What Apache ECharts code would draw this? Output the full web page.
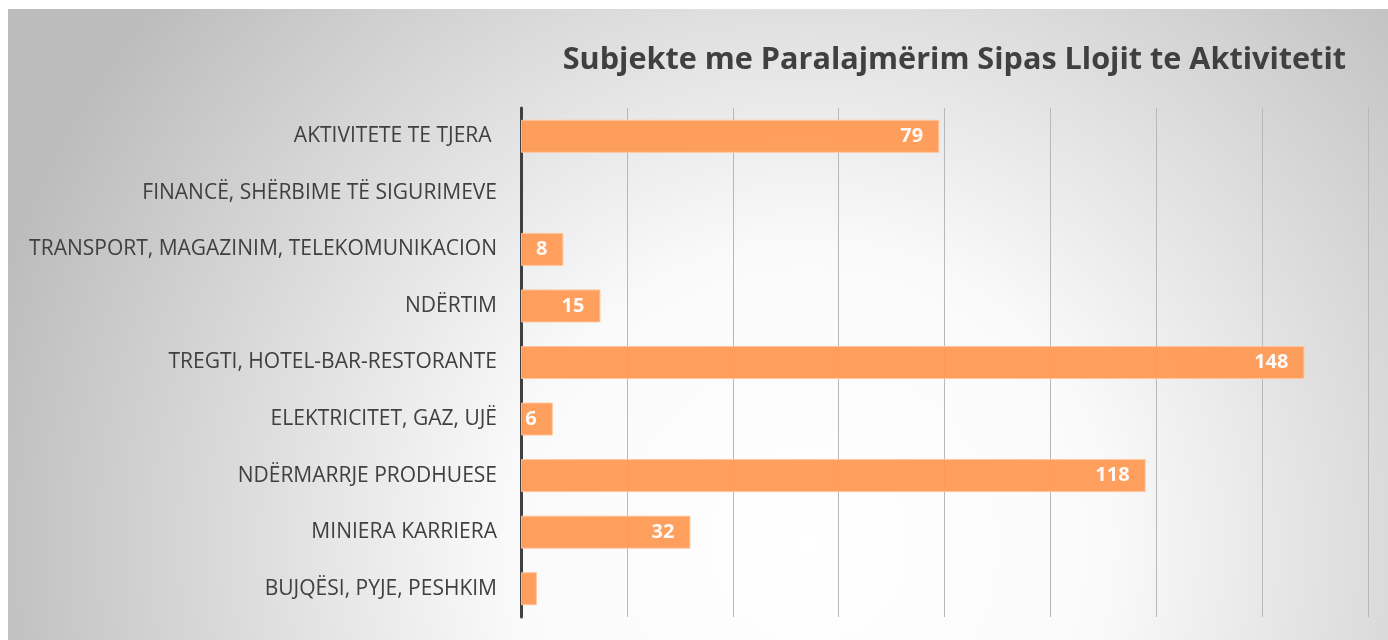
<!DOCTYPE html>
<html>
<head>
<meta charset="utf-8">
<script src="https://cdn.jsdelivr.net/npm/echarts@6/dist/echarts.min.js"></script>
<style>
  html, body { margin: 0; padding: 0; background: #fff; }
  #chart { width: 1388px; height: 640px; }
</style>
</head>
<body>
<div id="chart"></div>
<script>
// kategorite, nga lart poshte
var categories = [
    'AKTIVITETE TE TJERA ',
    'FINANCË, SHËRBIME TË SIGURIMEVE',
    'TRANSPORT, MAGAZINIM, TELEKOMUNIKACION',
    'NDËRTIM',
    'TREGTI, HOTEL-BAR-RESTORANTE',
    'ELEKTRICITET, GAZ, UJË',
    'NDËRMARRJE PRODHUESE',
    'MINIERA KARRIERA',
    'BUJQËSI, PYJE, PESHKIM'
];
var values = [79, null, 8, 15, 148, 6, 118, 32, 3];
// vlera pa etikete ne grafik
var hiddenLabels = ['BUJQËSI, PYJE, PESHKIM'];

var titleText = 'Subjekte me Paralajmërim Sipas Llojit te Aktivitetit';

var seriesData = values.map(function (v, i) {
    var item = { value: v };
    if (hiddenLabels.indexOf(categories[i]) >= 0) {
        item.label = { show: false };
    }
    return item;
});

var myChart = echarts.init(document.getElementById('chart'));

var option = {
    backgroundColor: '#fff',
    animation: false,
    graphic: [
        {
            type: 'rect',
            z: -10,
            silent: true,
            shape: { x: 8, y: 9, width: 1380, height: 631 },
            style: {
                fill: new echarts.graphic.RadialGradient(0.58, 0.85, 1.35, [
                    { offset: 0, color: '#ffffff' },
                    { offset: 0.35, color: '#fafafa' },
                    { offset: 1, color: '#bcbcbc' }
                ])
            }
        }
    ],
    title: {
        text: titleText,
        right: 37,
        top: 40,
        textStyle: {
            fontFamily: 'Open Sans',
            fontWeight: 'bold',
            fontSize: 30.6,
            color: '#404040'
        }
    },
    grid: {
        left: 521,
        right: 20,
        top: 108,
        bottom: 23,
        containLabel: false
    },
    xAxis: {
        type: 'value',
        min: 0,
        max: 160,
        interval: 20,
        axisLabel: { show: false },
        axisLine: { show: false },
        axisTick: { show: false },
        splitLine: {
            show: true,
            lineStyle: { color: '#b8b8b8', width: 1 }
        }
    },
    yAxis: {
        type: 'category',
        data: categories,
        inverse: true,
        axisTick: { show: false },
        axisLine: {
            show: true,
            lineStyle: { color: '#404040', width: 3 }
        },
        axisLabel: {
            margin: 24,
            fontFamily: 'Open Sans',
            fontSize: 21,
            color: '#404040'
        }
    },
    series: [
        {
            type: 'bar',
            data: seriesData,
            barWidth: 33,
            itemStyle: {
                color: '#fe9a55',
                opacity: 0.95,
                borderColor: '#ffc49c',
                borderWidth: 1
            },
            label: {
                show: true,
                position: 'insideRight',
                distance: 16,
                fontFamily: 'Open Sans',
                fontWeight: 'bold',
                fontSize: 20,
                color: '#ffffff'
            }
        }
    ]
};

myChart.setOption(option);
</script>
</body>
</html>
